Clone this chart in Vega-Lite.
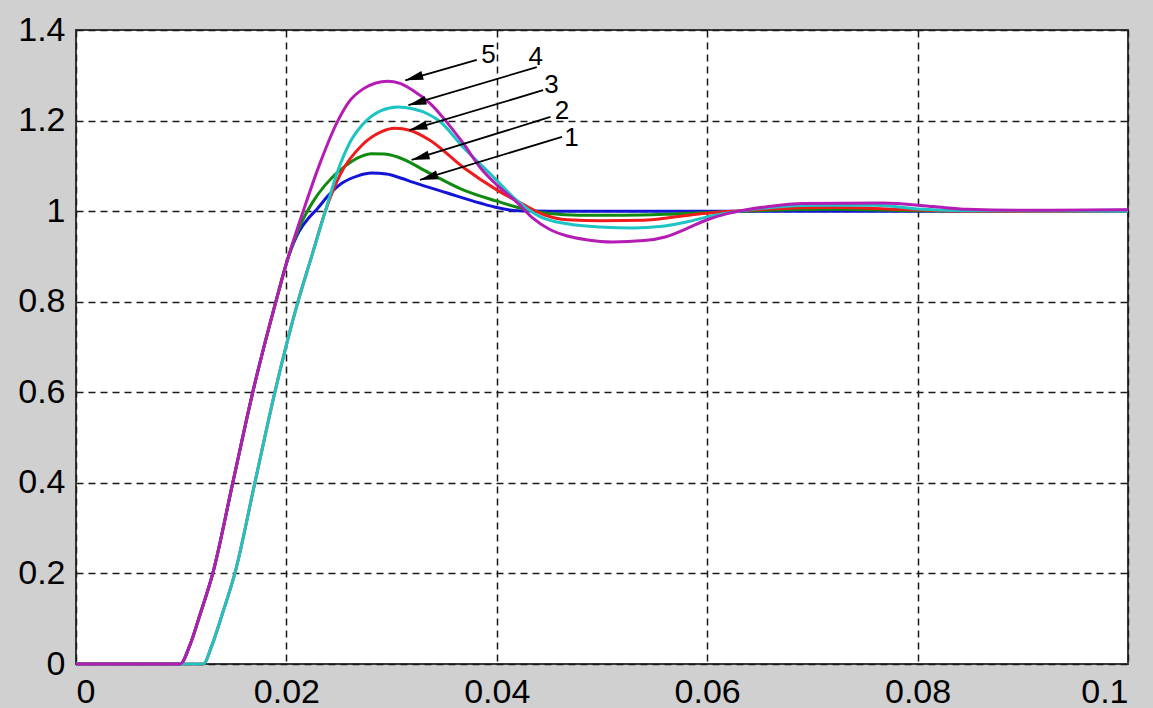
{
  "$schema": "https://vega.github.io/schema/vega-lite/v6.json",
  "width": 1052,
  "height": 634,
  "autosize": {"type": "none"},
  "padding": {"left": 76, "top": 30, "right": 25, "bottom": 44},
  "background": "#d0d0d0",
  "config": {
    "view": {"fill": "white", "stroke": "#3a3a3a", "strokeWidth": 2},
    "axis": {
      "labelFont": "Liberation Sans",
      "labelFontSize": 34,
      "labelColor": "black",
      "domain": false,
      "ticks": false,
      "grid": true,
      "gridColor": "#1a1a1a",
      "gridDash": [7, 5],
      "gridWidth": 1.5,
      "gridOpacity": 1,
      "title": null,
      "labelPadding": 11
    }
  },
  "datasets": {
    "curves": [
      {"curve": "1", "t": 0, "v": 0}, {"curve": "1", "t": 0.0099, "v": 0}, {"curve": "1", "t": 0.0108, "v": 0.04}, {"curve": "1", "t": 0.0118, "v": 0.11}, {"curve": "1", "t": 0.013, "v": 0.2}, {"curve": "1", "t": 0.0149, "v": 0.4}, {"curve": "1", "t": 0.0168, "v": 0.6}, {"curve": "1", "t": 0.019, "v": 0.8}, {"curve": "1", "t": 0.0202, "v": 0.9}, {"curve": "1", "t": 0.0212, "v": 0.955}, {"curve": "1", "t": 0.0222, "v": 0.987}, {"curve": "1", "t": 0.023, "v": 1.007}, {"curve": "1", "t": 0.024, "v": 1.035}, {"curve": "1", "t": 0.0253, "v": 1.062}, {"curve": "1", "t": 0.0268, "v": 1.078}, {"curve": "1", "t": 0.0281, "v": 1.084}, {"curve": "1", "t": 0.0295, "v": 1.082}, {"curve": "1", "t": 0.031, "v": 1.072}, {"curve": "1", "t": 0.032, "v": 1.064}, {"curve": "1", "t": 0.0353, "v": 1.04}, {"curve": "1", "t": 0.0384, "v": 1.018}, {"curve": "1", "t": 0.04, "v": 1.008}, {"curve": "1", "t": 0.042, "v": 1.001}, {"curve": "1", "t": 0.045, "v": 1.0}, {"curve": "1", "t": 0.06, "v": 1.0}, {"curve": "1", "t": 0.08, "v": 1.0}, {"curve": "1", "t": 0.1, "v": 1.002},

      {"curve": "2", "t": 0, "v": 0}, {"curve": "2", "t": 0.0099, "v": 0}, {"curve": "2", "t": 0.0108, "v": 0.04}, {"curve": "2", "t": 0.0118, "v": 0.11}, {"curve": "2", "t": 0.013, "v": 0.2}, {"curve": "2", "t": 0.0149, "v": 0.4}, {"curve": "2", "t": 0.0168, "v": 0.6}, {"curve": "2", "t": 0.019, "v": 0.8}, {"curve": "2", "t": 0.0202, "v": 0.9}, {"curve": "2", "t": 0.0213, "v": 0.968}, {"curve": "2", "t": 0.0225, "v": 1.02}, {"curve": "2", "t": 0.0237, "v": 1.058}, {"curve": "2", "t": 0.0256, "v": 1.1}, {"curve": "2", "t": 0.027, "v": 1.12}, {"curve": "2", "t": 0.0281, "v": 1.127}, {"curve": "2", "t": 0.0293, "v": 1.126}, {"curve": "2", "t": 0.0305, "v": 1.12}, {"curve": "2", "t": 0.0336, "v": 1.084}, {"curve": "2", "t": 0.0368, "v": 1.047}, {"curve": "2", "t": 0.04, "v": 1.022}, {"curve": "2", "t": 0.0425, "v": 1.005}, {"curve": "2", "t": 0.045, "v": 0.995}, {"curve": "2", "t": 0.0479, "v": 0.991}, {"curve": "2", "t": 0.052, "v": 0.991}, {"curve": "2", "t": 0.056, "v": 0.993}, {"curve": "2", "t": 0.06, "v": 0.997}, {"curve": "2", "t": 0.066, "v": 1.002}, {"curve": "2", "t": 0.072, "v": 1.004}, {"curve": "2", "t": 0.08, "v": 1.001}, {"curve": "2", "t": 0.1, "v": 1.0},

      {"curve": "3", "t": 0, "v": 0}, {"curve": "3", "t": 0.0121, "v": 0}, {"curve": "3", "t": 0.0129, "v": 0.04}, {"curve": "3", "t": 0.0139, "v": 0.11}, {"curve": "3", "t": 0.0151, "v": 0.2}, {"curve": "3", "t": 0.017, "v": 0.4}, {"curve": "3", "t": 0.0189, "v": 0.6}, {"curve": "3", "t": 0.0211, "v": 0.8}, {"curve": "3", "t": 0.0224, "v": 0.9}, {"curve": "3", "t": 0.0237, "v": 1.0}, {"curve": "3", "t": 0.0251, "v": 1.08}, {"curve": "3", "t": 0.0272, "v": 1.146}, {"curve": "3", "t": 0.029, "v": 1.175}, {"curve": "3", "t": 0.0303, "v": 1.183}, {"curve": "3", "t": 0.0318, "v": 1.178}, {"curve": "3", "t": 0.0336, "v": 1.157}, {"curve": "3", "t": 0.0368, "v": 1.097}, {"curve": "3", "t": 0.04, "v": 1.047}, {"curve": "3", "t": 0.0425, "v": 1.015}, {"curve": "3", "t": 0.0445, "v": 0.992}, {"curve": "3", "t": 0.0467, "v": 0.981}, {"curve": "3", "t": 0.05, "v": 0.979}, {"curve": "3", "t": 0.054, "v": 0.98}, {"curve": "3", "t": 0.0565, "v": 0.986}, {"curve": "3", "t": 0.059, "v": 0.993}, {"curve": "3", "t": 0.062, "v": 0.999}, {"curve": "3", "t": 0.066, "v": 1.005}, {"curve": "3", "t": 0.072, "v": 1.008}, {"curve": "3", "t": 0.078, "v": 1.004}, {"curve": "3", "t": 0.085, "v": 1.0}, {"curve": "3", "t": 0.1, "v": 1.0},

      {"curve": "4", "t": 0, "v": 0}, {"curve": "4", "t": 0.0121, "v": 0}, {"curve": "4", "t": 0.0129, "v": 0.04}, {"curve": "4", "t": 0.0139, "v": 0.11}, {"curve": "4", "t": 0.0151, "v": 0.2}, {"curve": "4", "t": 0.017, "v": 0.4}, {"curve": "4", "t": 0.0189, "v": 0.6}, {"curve": "4", "t": 0.0211, "v": 0.8}, {"curve": "4", "t": 0.0224, "v": 0.9}, {"curve": "4", "t": 0.0237, "v": 1.0}, {"curve": "4", "t": 0.0249, "v": 1.09}, {"curve": "4", "t": 0.026, "v": 1.15}, {"curve": "4", "t": 0.0272, "v": 1.19}, {"curve": "4", "t": 0.029, "v": 1.222}, {"curve": "4", "t": 0.0306, "v": 1.23}, {"curve": "4", "t": 0.032, "v": 1.226}, {"curve": "4", "t": 0.0335, "v": 1.214}, {"curve": "4", "t": 0.0346, "v": 1.198}, {"curve": "4", "t": 0.0368, "v": 1.141}, {"curve": "4", "t": 0.0394, "v": 1.082}, {"curve": "4", "t": 0.0419, "v": 1.024}, {"curve": "4", "t": 0.0441, "v": 0.988}, {"curve": "4", "t": 0.0467, "v": 0.972}, {"curve": "4", "t": 0.0498, "v": 0.965}, {"curve": "4", "t": 0.053, "v": 0.963}, {"curve": "4", "t": 0.0555, "v": 0.966}, {"curve": "4", "t": 0.058, "v": 0.976}, {"curve": "4", "t": 0.0605, "v": 0.99}, {"curve": "4", "t": 0.063, "v": 1.0}, {"curve": "4", "t": 0.066, "v": 1.008}, {"curve": "4", "t": 0.07, "v": 1.013}, {"curve": "4", "t": 0.076, "v": 1.013}, {"curve": "4", "t": 0.08, "v": 1.005}, {"curve": "4", "t": 0.085, "v": 1.001}, {"curve": "4", "t": 0.1, "v": 1.0},

      {"curve": "5", "t": 0, "v": 0}, {"curve": "5", "t": 0.0099, "v": 0}, {"curve": "5", "t": 0.0108, "v": 0.04}, {"curve": "5", "t": 0.0118, "v": 0.11}, {"curve": "5", "t": 0.013, "v": 0.2}, {"curve": "5", "t": 0.0149, "v": 0.4}, {"curve": "5", "t": 0.0168, "v": 0.6}, {"curve": "5", "t": 0.019, "v": 0.8}, {"curve": "5", "t": 0.0202, "v": 0.9}, {"curve": "5", "t": 0.0216, "v": 1.0}, {"curve": "5", "t": 0.0231, "v": 1.1}, {"curve": "5", "t": 0.0249, "v": 1.2}, {"curve": "5", "t": 0.026, "v": 1.243}, {"curve": "5", "t": 0.0273, "v": 1.27}, {"curve": "5", "t": 0.0285, "v": 1.283}, {"curve": "5", "t": 0.0296, "v": 1.287}, {"curve": "5", "t": 0.0308, "v": 1.282}, {"curve": "5", "t": 0.032, "v": 1.267}, {"curve": "5", "t": 0.0337, "v": 1.237}, {"curve": "5", "t": 0.0353, "v": 1.195}, {"curve": "5", "t": 0.0368, "v": 1.15}, {"curve": "5", "t": 0.0384, "v": 1.097}, {"curve": "5", "t": 0.04, "v": 1.058}, {"curve": "5", "t": 0.0419, "v": 1.02}, {"curve": "5", "t": 0.0434, "v": 0.985}, {"curve": "5", "t": 0.045, "v": 0.96}, {"curve": "5", "t": 0.0467, "v": 0.945}, {"curve": "5", "t": 0.0485, "v": 0.937}, {"curve": "5", "t": 0.051, "v": 0.932}, {"curve": "5", "t": 0.054, "v": 0.935}, {"curve": "5", "t": 0.056, "v": 0.943}, {"curve": "5", "t": 0.058, "v": 0.961}, {"curve": "5", "t": 0.06, "v": 0.981}, {"curve": "5", "t": 0.062, "v": 0.995}, {"curve": "5", "t": 0.064, "v": 1.004}, {"curve": "5", "t": 0.0665, "v": 1.012}, {"curve": "5", "t": 0.069, "v": 1.017}, {"curve": "5", "t": 0.0767, "v": 1.018}, {"curve": "5", "t": 0.0815, "v": 1.01}, {"curve": "5", "t": 0.0847, "v": 1.004}, {"curve": "5", "t": 0.09, "v": 1.002}, {"curve": "5", "t": 0.1, "v": 1.003}
    ],
    "notes": [
      {"label": "5", "lx": 0.0392, "ly": 1.345, "sx": 0.0381, "sy": 1.334, "ex": 0.0313, "ey": 1.289},
      {"label": "4", "lx": 0.0437, "ly": 1.34, "sx": 0.0438, "sy": 1.318, "ex": 0.0316, "ey": 1.234},
      {"label": "3", "lx": 0.0452, "ly": 1.279, "sx": 0.0444, "sy": 1.267, "ex": 0.0317, "ey": 1.179},
      {"label": "2", "lx": 0.0462, "ly": 1.221, "sx": 0.0451, "sy": 1.208, "ex": 0.0319, "ey": 1.113},
      {"label": "1", "lx": 0.0471, "ly": 1.162, "sx": 0.0462, "sy": 1.164, "ex": 0.0327, "ey": 1.069}
    ]
  },
  "layer": [
    {
      "data": {"name": "curves"},
      "mark": {"type": "line", "strokeWidth": 3, "interpolate": "monotone"},
      "encoding": {
        "x": {"field": "t", "type": "quantitative", "scale": {"domain": [0, 0.1], "nice": false}, "axis": {"values": [0, 0.02, 0.04, 0.06, 0.08, 0.1], "format": ".2~f"}},
        "y": {"field": "v", "type": "quantitative", "scale": {"domain": [0, 1.4], "nice": false}, "axis": {"values": [0, 0.2, 0.4, 0.6, 0.8, 1, 1.2, 1.4], "format": ".1~f"}},
        "color": {"field": "curve", "type": "nominal", "scale": {"domain": ["1", "2", "3", "4", "5"], "range": ["#1414d8", "#108a10", "#ee1c1c", "#1cc4c4", "#b41cb4"]}, "legend": null},
        "order": {"field": "t", "type": "quantitative"}
      }
    },
    {
      "data": {"name": "notes"},
      "mark": {"type": "rule", "color": "black", "strokeWidth": 1.8},
      "encoding": {
        "x": {"field": "sx", "type": "quantitative"},
        "y": {"field": "sy", "type": "quantitative"},
        "x2": {"field": "ex"},
        "y2": {"field": "ey"}
      }
    },
    {
      "data": {"name": "notes"},
      "mark": {"type": "point", "shape": "M0,0L2,-0.5L2,0.5Z", "filled": true, "color": "black", "opacity": 1, "size": 324, "angle": 344},
      "encoding": {
        "x": {"field": "ex", "type": "quantitative"},
        "y": {"field": "ey", "type": "quantitative"}
      }
    },
    {
      "data": {"name": "notes"},
      "mark": {"type": "text", "font": "Liberation Sans", "fontSize": 26, "color": "black", "align": "center", "baseline": "middle"},
      "encoding": {
        "x": {"field": "lx", "type": "quantitative"},
        "y": {"field": "ly", "type": "quantitative"},
        "text": {"field": "label"}
      }
    }
  ]
}
